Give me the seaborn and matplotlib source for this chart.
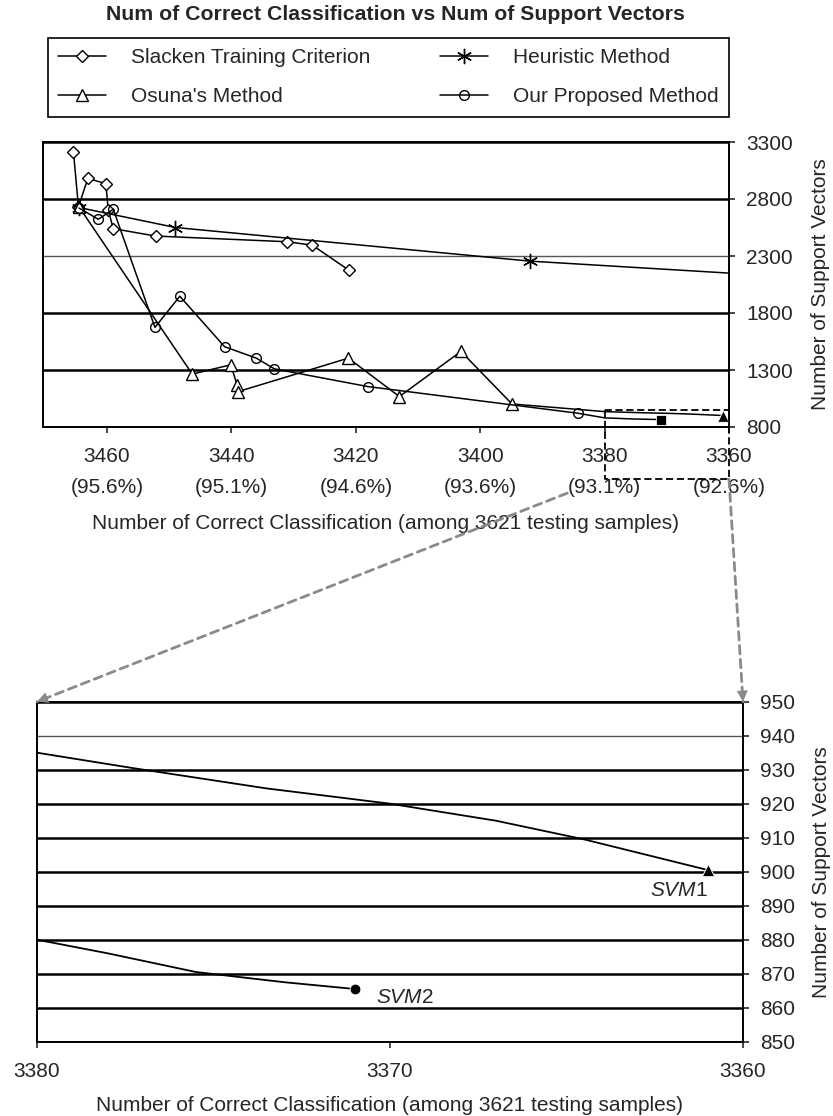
import numpy as np
import pandas as pd
import seaborn as sns
import matplotlib.pyplot as plt
from matplotlib.lines import Line2D
from matplotlib.patches import ConnectionPatch

# values
slacken_x = [3465.4, 3464.6, 3463.1, 3460.2, 3459.8, 3459.0, 3452.2, 3431.0, 3427.0, 3421.1]
slacken_y = [3210, 2730, 2980, 2935, 2700, 2540, 2475, 2425, 2395, 2175]

heuristic_x = [3464.5, 3449.0, 3392.0, 3360.0]
heuristic_y = [2725, 2550, 2255, 2150]

osuna_x = [3464.5, 3446.3, 3440.1, 3439.1, 3438.9, 3421.2, 3413.0, 3403.1, 3394.9]
osuna_y = [2730, 1264, 1346, 1170, 1111, 1404, 1067, 1463, 1002]

ours_x = [3464.5, 3461.4, 3459.0, 3452.3, 3448.3, 3441.1, 3436.0, 3433.1, 3418.1, 3384.2]
ours_y = [2720, 2622, 2710, 1674, 1947, 1504, 1404, 1310, 1155, 920]

# tails inside the zoomed window 3380..3360 (lower chart)
svm1_x = [3380.0, 3377.3, 3373.5, 3370.0, 3367.0, 3364.5, 3361.0]
svm1_y = [935.0, 930.5, 924.5, 920.0, 915.0, 909.5, 900.5]
svm2_x = [3380.0, 3378.0, 3375.5, 3373.0, 3371.0]
svm2_y = [880.0, 876.0, 870.5, 867.5, 865.5]

top_ticks = [3460, 3440, 3420, 3400, 3380, 3360]
top_pcts = ['95.6%', '95.1%', '94.6%', '93.6%', '93.1%', '92.6%']
zoom_ticks = [3380, 3370, 3360]

xlab = 'Number of Correct Classification (among 3621 testing samples)'
ylab = 'Number of Support Vectors'

sns.set_style('ticks')
plt.rcParams['font.family'] = ['Liberation Sans', 'DejaVu Sans']
plt.rcParams['mathtext.fontset'] = 'custom'
plt.rcParams['mathtext.it'] = 'Liberation Sans:italic'
plt.rcParams['mathtext.rm'] = 'Liberation Sans'

W, H = 833, 1116
fig = plt.figure(figsize=(W / 100, H / 100), dpi=100)
ax1 = fig.add_axes([43 / W, 1 - 427 / H, 686 / W, 285 / H])
ax2 = fig.add_axes([37 / W, 1 - 1041.7 / H, 706 / W, 340 / H])


def series(ax, xs, ys, marker, ms, marked, mfc='white'):
    sns.lineplot(x=xs, y=ys, sort=False, estimator=None, color='black',
                 linewidth=1.1, marker=marker, markersize=ms, markevery=marked,
                 mfc=mfc, mec='black', mew=1.0, ax=ax)


# top chart
series(ax1, slacken_x, slacken_y, 'D', 6.5, list(range(len(slacken_x))))
series(ax1, heuristic_x, heuristic_y, (6, 2, 0), 11, [0, 1, 2])
series(ax1, osuna_x + svm1_x, osuna_y + svm1_y, '^', 8.5, list(range(len(osuna_x))))
series(ax1, ours_x + svm2_x, ours_y + svm2_y, 'o', 7, list(range(len(ours_x))), mfc='none')
sns.scatterplot(x=[svm1_x[-1]], y=[svm1_y[-1]], marker='^', s=70, color='black', ax=ax1, zorder=4)
sns.scatterplot(x=[svm2_x[-1]], y=[svm2_y[-1]], marker='s', s=45, color='black', ax=ax1, zorder=4)

ax1.set_xlim(3470.3, 3360)
ax1.set_ylim(800, 3300)
ax1.set_xticks(top_ticks)
ax1.set_xticklabels([f'{t}\n({p})' for t, p in zip(top_ticks, top_pcts)], linespacing=1.8)
ax1.set_yticks(range(800, 3301, 500))
ax1.yaxis.tick_right()
ax1.yaxis.set_label_position('right')
ax1.tick_params(axis='x', direction='out', length=4.5, width=1.2, labelsize=15, pad=10)
ax1.tick_params(axis='y', direction='out', length=4.5, width=1.2, labelsize=15, pad=8)
ax1.grid(axis='y', color='black', linewidth=1.8)
for gl, v in zip(ax1.get_ygridlines(), ax1.get_yticks()):
    if v == 2300:
        gl.set_color('#555555')
        gl.set_linewidth(1.0)
ax1.set_xlabel(xlab, fontsize=15, labelpad=12)
ax1.set_ylabel(ylab, fontsize=15, labelpad=13)

# lower (zoomed) chart
sns.lineplot(x=svm1_x, y=svm1_y, sort=False, estimator=None, color='black', linewidth=1.3, ax=ax2)
sns.lineplot(x=svm2_x, y=svm2_y, sort=False, estimator=None, color='black', linewidth=1.3, ax=ax2)
sns.scatterplot(x=[svm1_x[-1]], y=[svm1_y[-1]], marker='^', s=80, color='black', ax=ax2, zorder=4)
sns.scatterplot(x=[svm2_x[-1]], y=[svm2_y[-1]], marker='o', s=60, color='black', ax=ax2, zorder=4)
ax2.text(svm1_x[-1], svm1_y[-1] - 6, r'$\mathit{SVM}$1', ha='right', va='center', fontsize=15)
ax2.text(svm2_x[-1] - 0.6, svm2_y[-1] - 2.5, r'$\mathit{SVM}$2', ha='left', va='center', fontsize=15)

ax2.set_xlim(zoom_ticks[0], zoom_ticks[-1])
ax2.set_ylim(850, 950)
ax2.set_xticks(zoom_ticks)
ax2.set_yticks(range(850, 951, 10))
ax2.yaxis.tick_right()
ax2.yaxis.set_label_position('right')
ax2.tick_params(axis='x', direction='out', length=4.5, width=1.2, labelsize=15, pad=10)
ax2.tick_params(axis='y', direction='out', length=4.5, width=1.2, labelsize=15, pad=8)
ax2.grid(axis='y', color='black', linewidth=1.8)
for gl, v in zip(ax2.get_ygridlines(), ax2.get_yticks()):
    if v == 940:
        gl.set_color('#555555')
        gl.set_linewidth(1.0)
ax2.set_xlabel(xlab, fontsize=15, labelpad=11)
ax2.set_ylabel(ylab, fontsize=15, labelpad=12)

for ax in (ax1, ax2):
    for sp in ax.spines.values():
        sp.set_visible(True)
        sp.set_color('black')
        sp.set_linewidth(1.4)

# dashed box marking the zoom window on the top chart
low = 342
ax1.plot([3380, 3380, 3360, 3360, 3380], [950, low, low, 950, 950], color='black',
         linewidth=1.3, linestyle=(0, (4, 2)), clip_on=False, zorder=5)
ax1.set_xlim(3470.3, 3360)
ax1.set_ylim(800, 3300)

# grey dashed arrows down to the zoomed chart
for a, b in [((3386, 220), (3380, 950)), ((3360, low), (3360, 950))]:
    fig.add_artist(ConnectionPatch(xyA=a, coordsA=ax1.transData, xyB=b, coordsB=ax2.transData,
                                   arrowstyle='-', color='#8a8a8a', linewidth=2,
                                   linestyle=(0, (3, 2))))
    fig.add_artist(ConnectionPatch(xyA=a, coordsA=ax1.transData, xyB=b, coordsB=ax2.transData,
                                   arrowstyle='-|>', mutation_scale=20, color='#8a8a8a',
                                   linewidth=0))

fig.text(395.5 / W, 1 - 15 / H, 'Num of Correct Classification vs Num of Support Vectors',
         ha='center', va='center', fontsize=15.3, fontweight='bold')

handles = [
    Line2D([], [], color='black', lw=1.1, marker='D', ms=6.5, mfc='white', mec='black'),
    Line2D([], [], color='black', lw=1.1, marker='^', ms=8.5, mfc='white', mec='black'),
    Line2D([], [], color='black', lw=1.1, marker=(6, 2, 0), ms=11, mec='black'),
    Line2D([], [], color='black', lw=1.1, marker='o', ms=7, mfc='none', mec='black'),
]
labels = ['Slacken Training Criterion', "Osuna's Method", 'Heuristic Method', 'Our Proposed Method']
leg = fig.legend(handles, labels, loc='upper left', ncol=2, mode='expand',
                 bbox_to_anchor=(48 / W, 1 - 116 / H, 681 / W, 78 / H), borderaxespad=0,
                 frameon=True, fancybox=False, edgecolor='black', framealpha=1,
                 fontsize=15, handlelength=2.3, handletextpad=1.2, labelspacing=0.95,
                 borderpad=0.5)
leg.get_frame().set_linewidth(1.2)

fig.savefig('out.png', dpi=100)
